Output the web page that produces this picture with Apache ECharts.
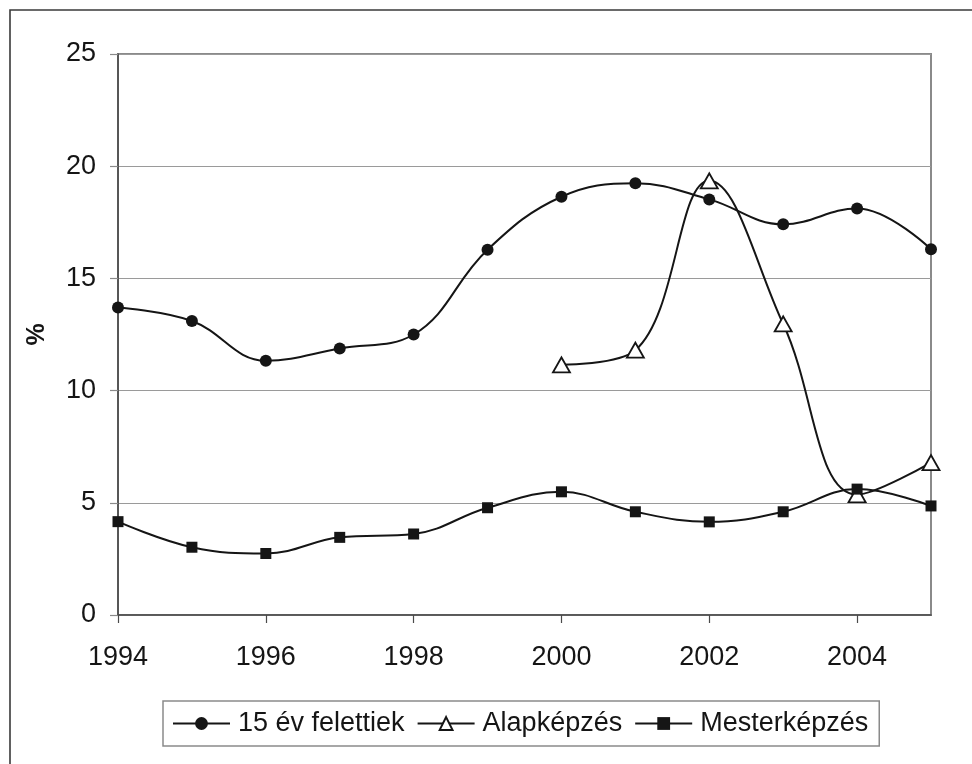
<!DOCTYPE html>
<html>
<head>
<meta charset="utf-8">
<script src="https://cdn.jsdelivr.net/npm/echarts@6/dist/echarts.min.js"></script>
<style>html,body{margin:0;padding:0;background:#fff}#c{width:972px;height:764px}</style>
</head>
<body>
<div id="c"></div>
<script>
const years = [1994,1995,1996,1997,1998,1999,2000,2001,2002,2003,2004,2005];
const felettiek = [13.7,13.1,11.33,11.88,12.5,16.28,18.64,19.24,18.52,17.41,18.12,16.3];
const alapkepzes = [null,null,null,null,null,null,11.15,11.8,19.35,12.97,5.36,6.79];
const mesterkepzes = [4.16,3.02,2.74,3.46,3.61,4.78,5.49,4.6,4.15,4.6,5.61,4.86];
const xTickLabels = [1994,1996,1998,2000,2002,2004];
const yTicks = [0,5,10,15,20,25];
const seriesNames = ['15 év felettiek','Alapképzés','Mesterképzés'];

const pair = arr => years.map((y,i)=>[y,arr[i]]).filter(p=>p[1]!==null);
const FONT = 'Liberation Sans, Arial, sans-serif';
const ink = '#151515';

const chart = echarts.init(document.getElementById('c'));
chart.setOption({
  backgroundColor:'#fff',
  animation:false,
  graphic:[{type:'rect',z:-10,shape:{x:10,y:10,width:980,height:780},style:{fill:'none',stroke:'#3a3a3a',lineWidth:1.6}}],
  grid:{left:118,right:41,top:54,bottom:149,show:true,borderColor:'#8a8a8a',borderWidth:2,backgroundColor:'#fff'},
  legend:{
    left:163, top:701,
    orient:'horizontal',
    data:seriesNames,
    itemWidth:57, itemHeight:16, itemGap:12,
    padding:[9,11,9,9],
    borderColor:'#8a8a8a', borderWidth:1.5, backgroundColor:'#fff',
    textStyle:{fontFamily:FONT,fontSize:27,color:ink,padding:[0,0,0,3]},
    inactiveColor:ink
  },
  xAxis:{
    type:'value', min:1994, max:2005, interval:2,
    axisLine:{lineStyle:{color:'#4a4a4a',width:1.6}},
    axisTick:{show:true,length:8,lineStyle:{color:'#4a4a4a',width:1.2},customValues:xTickLabels},
    axisLabel:{fontFamily:FONT,fontSize:27,color:ink,margin:29,customValues:xTickLabels,formatter:v=>String(v)},
    splitLine:{show:false}
  },
  yAxis:{
    type:'value', min:0, max:25, interval:5,
    name:'%', nameLocation:'middle', nameGap:68, nameRotate:90,
    nameTextStyle:{fontFamily:FONT,fontSize:25,fontWeight:'bold',color:ink},
    axisLine:{show:true,lineStyle:{color:'#4a4a4a',width:1.6}},
    axisTick:{show:true,length:8,lineStyle:{color:'#8a8a8a',width:1.2}},
    axisLabel:{fontFamily:FONT,fontSize:27,color:ink,margin:22},
    splitLine:{show:true,lineStyle:{color:'#9a9a9a',width:1.2}}
  },
  series:[
    {name:seriesNames[0],type:'line',data:pair(felettiek),smooth:0.4,
     symbol:'circle',symbolSize:12,
     lineStyle:{color:ink,width:2},itemStyle:{color:ink,borderColor:ink,borderWidth:0}},
    {name:seriesNames[1],type:'line',data:pair(alapkepzes),smooth:0.4,
     symbol:'triangle',symbolSize:[17,15],
     lineStyle:{color:ink,width:2},itemStyle:{color:'#fff',borderColor:ink,borderWidth:1.8}},
    {name:seriesNames[2],type:'line',data:pair(mesterkepzes),smooth:0.4,
     symbol:'rect',symbolSize:11,
     lineStyle:{color:ink,width:2},itemStyle:{color:ink,borderColor:ink,borderWidth:0}}
  ]
});
</script>
</body>
</html>
